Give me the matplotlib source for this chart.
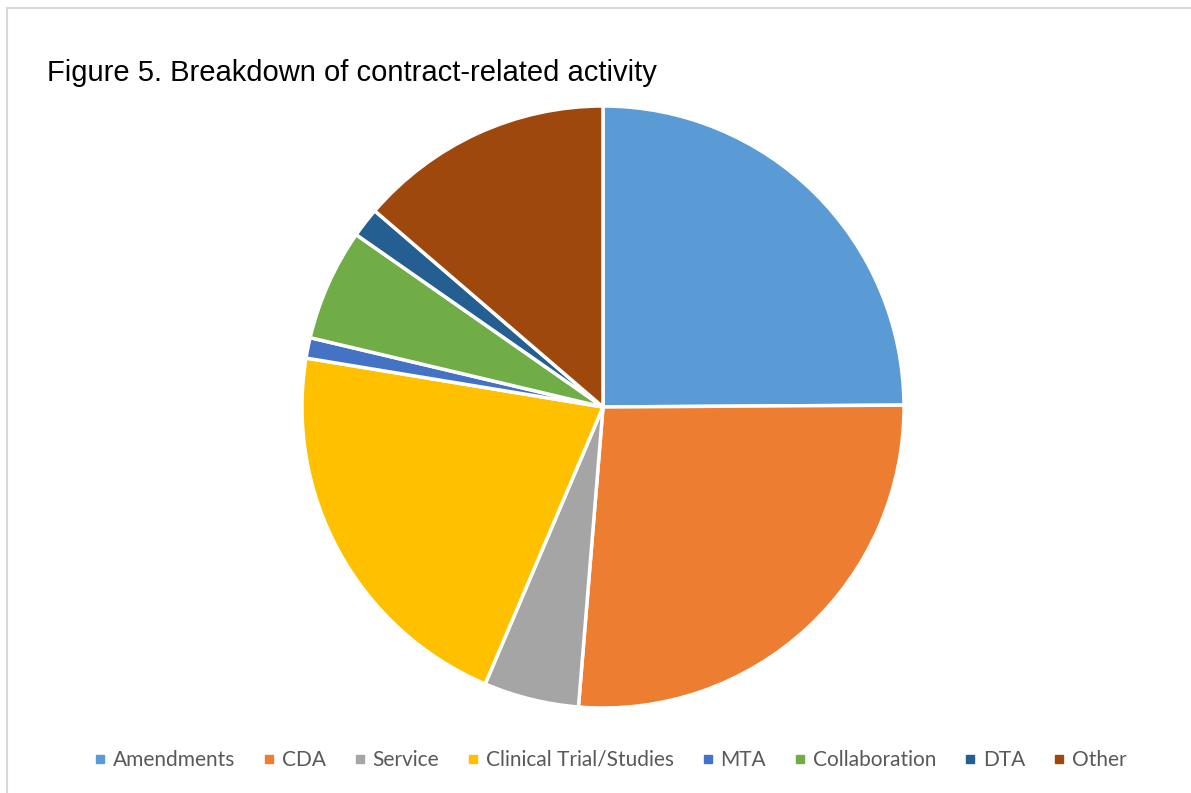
import matplotlib.pyplot as plt
from matplotlib.lines import Line2D

labels = ["Amendments", "CDA", "Service", "Clinical Trial/Studies",
          "MTA", "Collaboration", "DTA", "Other"]
shares = [24.9, 26.4, 5.1, 21.2, 1.1, 6.0, 1.6, 13.7]  # percent
colors = ["#5B9BD5", "#ED7D31", "#A5A5A5", "#FFC000",
          "#4472C4", "#70AD47", "#255E91", "#9E480E"]

W, H = 1191, 793
fig = plt.figure(figsize=(W / 100, H / 100), dpi=100)

# frame edges visible at top and left only
fig.add_artist(Line2D([7 / W, 1], [1 - 8 / H, 1 - 8 / H], transform=fig.transFigure,
                      color="#D9D9D9", linewidth=1.5))
fig.add_artist(Line2D([7 / W, 7 / W], [0, 1 - 8 / H], transform=fig.transFigure,
                      color="#D9D9D9", linewidth=1.5))

fig.text(47 / W, 1 - 81 / H, "Figure 5. Breakdown of contract-related activity",
         fontsize=21, family="Liberation Sans", color="black")

ax = fig.add_axes([302 / W, (H - 708) / H, 602 / W, 602 / H])
ax.pie(shares, colors=colors, startangle=90, counterclock=False, radius=1,
       wedgeprops=dict(edgecolor="white", linewidth=2.5))
ax.set_xlim(-1.0, 1.0)
ax.set_ylim(-1.0, 1.0)
ax.set_aspect("equal")

handles = [Line2D([], [], marker="s", linestyle="none", markersize=6,
                  markerfacecolor=c, markeredgecolor=c) for c in colors]
fig.legend(handles, labels, loc="center", bbox_to_anchor=(609 / W, 1 - 760 / H),
           ncol=8, frameon=False, handletextpad=0.2, columnspacing=1.24,
           prop=dict(family="Lato", size=15), labelcolor="#595959",
           handlelength=0.8)

fig.savefig("out.png", dpi=100)
